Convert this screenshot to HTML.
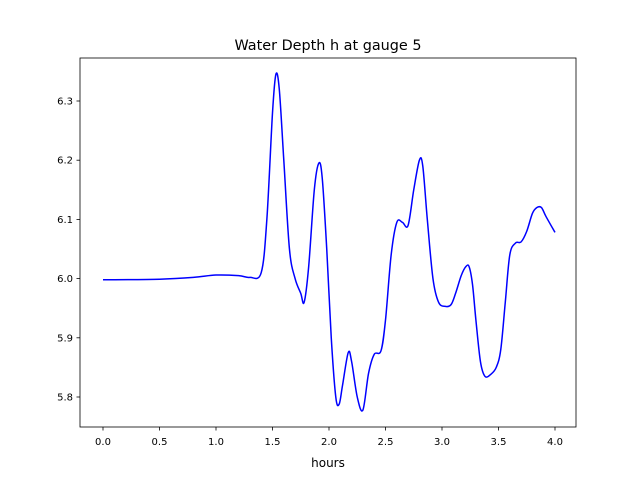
<!DOCTYPE html>
<html><head><meta charset="utf-8"><style>
body{margin:0;background:#fff;}
svg text{font-family:"DejaVu Sans","Liberation Sans",sans-serif;fill:#000;}
</style></head><body>
<svg id="chart" width="640" height="480" xmlns="http://www.w3.org/2000/svg">
<rect x="0" y="0" width="640" height="480" fill="#fff"/>
<text x="328" y="50" font-size="14.4" text-anchor="middle">Water Depth h at gauge 5</text>
<g id="ticks"></g>
<path id="line" fill="none" stroke="#0000ff" stroke-width="1.5"/>
<rect x="80" y="58" width="496" height="369" fill="none" stroke="#000" stroke-width="0.8"/>
<text x="328" y="467" font-size="12" text-anchor="middle">hours</text>
</svg>
<script>
const hours=[0,0.5,0.8,1.0,1.2,1.3,1.4,1.45,1.5,1.53,1.56,1.6,1.65,1.7,1.75,1.78,1.82,1.87,1.91,1.94,1.98,2.02,2.06,2.09,2.12,2.17,2.2,2.25,2.3,2.35,2.4,2.46,2.5,2.55,2.6,2.65,2.7,2.75,2.8,2.83,2.87,2.92,2.97,3.03,3.08,3.12,3.17,3.21,3.24,3.27,3.3,3.34,3.38,3.43,3.48,3.52,3.56,3.6,3.65,3.7,3.75,3.8,3.84,3.88,3.92,4.0];
const depth=[5.998,5.999,6.002,6.006,6.005,6.002,6.01,6.1,6.28,6.345,6.32,6.2,6.05,6.0,5.975,5.96,6.02,6.15,6.195,6.17,6.05,5.9,5.8,5.788,5.82,5.875,5.86,5.8,5.778,5.84,5.872,5.878,5.93,6.04,6.095,6.095,6.09,6.15,6.2,6.19,6.1,6.0,5.96,5.953,5.956,5.975,6.005,6.02,6.02,5.99,5.93,5.86,5.835,5.838,5.85,5.88,5.96,6.04,6.06,6.062,6.08,6.11,6.12,6.12,6.105,6.078];
const xTicks=[0,0.5,1,1.5,2,2.5,3,3.5,4];
const xTickLabels=["0.0","0.5","1.0","1.5","2.0","2.5","3.0","3.5","4.0"];
const yTicks=[5.8,5.9,6.0,6.1,6.2,6.3];
const yTickLabels=["5.8","5.9","6.0","6.1","6.2","6.3"];
const X=v=>103+v*113;
const Y=v=>397-(v-5.8)*592;
const ns="http://www.w3.org/2000/svg";
const g=document.getElementById('ticks');
function mk(t,a){const e=document.createElementNS(ns,t);for(const k in a)e.setAttribute(k,a[k]);g.appendChild(e);return e;}
xTicks.forEach((v,i)=>{
  const l=mk('line',{x1:X(v),x2:X(v),y1:427,y2:430.5,stroke:'#000','stroke-width':0.8});
  
  
  const t=mk('text',{x:X(v),y:445,'font-size':10,'text-anchor':'middle'});t.textContent=xTickLabels[i];
  
  
});
yTicks.forEach((v,i)=>{
  const l=mk('line',{x1:76.5,x2:80,y1:Y(v),y2:Y(v),stroke:'#000','stroke-width':0.8});
  
  
  const t=mk('text',{x:73,y:Y(v)+3.5,'font-size':10,'text-anchor':'end'});t.textContent=yTickLabels[i];
  
  
});
const P=hours.map((h,i)=>[X(h),Y(depth[i])]);
let d='M'+P[0][0]+','+P[0][1];
for(let i=0;i<P.length-1;i++){
  const p0=P[Math.max(0,i-1)],p1=P[i],p2=P[i+1],p3=P[Math.min(P.length-1,i+2)];
  const c1=[p1[0]+(p2[0]-p0[0])/6,p1[1]+(p2[1]-p0[1])/6];
  const c2=[p2[0]-(p3[0]-p1[0])/6,p2[1]-(p3[1]-p1[1])/6];
  d+=`C${c1[0]},${c1[1]} ${c2[0]},${c2[1]} ${p2[0]},${p2[1]}`;
}
document.getElementById('line').setAttribute('d',d);
</script>
</body></html>
